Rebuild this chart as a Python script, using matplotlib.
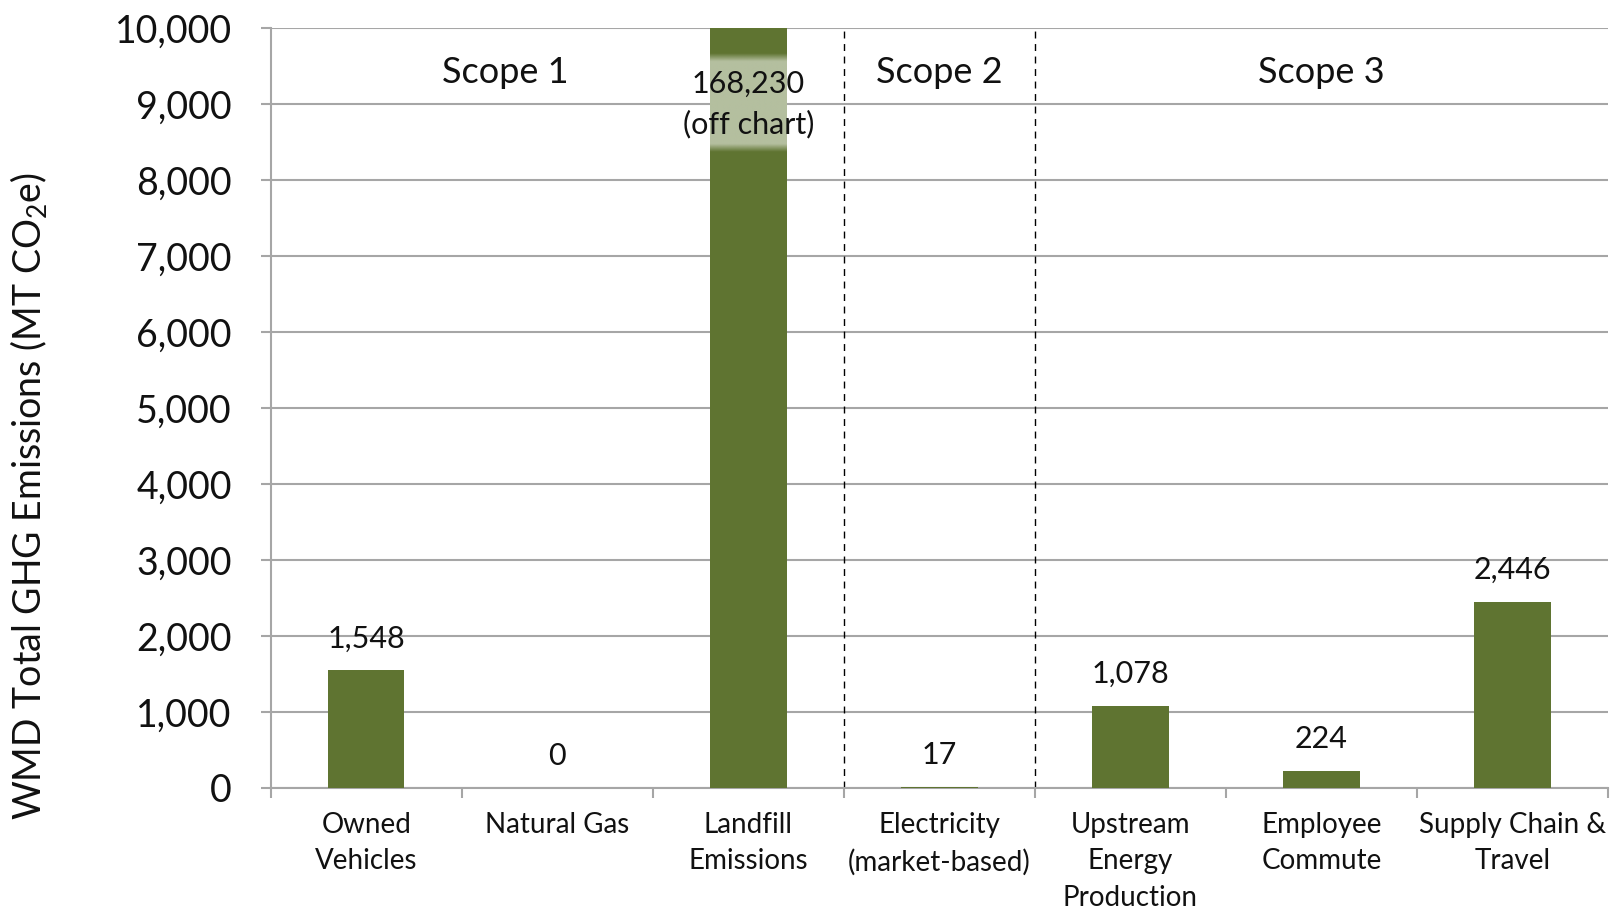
import numpy as np
import matplotlib
matplotlib.use('Agg')
import matplotlib.pyplot as plt
from matplotlib.colors import to_rgb

plt.rcParams['font.family'] = ['Lato', 'DejaVu Sans']
plt.rcParams['mathtext.fontset'] = 'custom'
plt.rcParams['mathtext.rm'] = 'Lato'
plt.rcParams['mathtext.it'] = 'Lato:italic'

# data
categories = ['Owned\nVehicles', 'Natural Gas', 'Landfill\nEmissions',
              'Electricity\n(market-based)', 'Upstream\nEnergy\nProduction',
              'Employee\nCommute', 'Supply Chain &\nTravel']
values = [1548, 0, 168230, 17, 1078, 224, 2446]
scopes = ['Scope 1', 'Scope 2', 'Scope 3']
scope_x = [0.73, 3.0, 5.0]
scope_bounds = [2.5, 3.5]
y_max = 10000

bar_color = '#5f7431'
band_color = '#b4bf9f'
grid_color = '#a6a6a6'
text_color = '#111111'

fig = plt.figure(figsize=(16.21, 9.13), dpi=100)
ax = fig.add_axes([0.167, 0.137, 0.825, 0.832])

x = np.arange(len(categories))
ax.bar(x, values, width=0.4, color=bar_color, zorder=3)

# light band across the bar that goes off the chart
n = 200
ramp = np.minimum(np.linspace(0, 1, n), np.linspace(1, 0, n))
img = np.zeros((n, 1, 4))
img[..., :3] = to_rgb(band_color)
img[:, 0, 3] = np.clip(ramp / 0.08, 0, 1)
for i, v in enumerate(values):
    if v > y_max:
        ax.imshow(img, extent=(i - 0.2, i + 0.2, 8370, 9670), aspect='auto',
                  zorder=4, interpolation='bilinear')
        ax.text(i, 9000, f'{v:,}\n(off chart)', ha='center', va='center',
                fontsize=22, color=text_color, zorder=5, linespacing=1.5)
    else:
        ax.annotate(f'{v:,}', (i, v), xytext=(0, 23), textcoords='offset points',
                    ha='center', va='center', fontsize=22, color=text_color)

for s, sx in zip(scopes, scope_x):
    ax.text(sx, 9420, s, ha='center', va='center', fontsize=26, color=text_color)

ax.vlines(scope_bounds, 0, y_max, colors='k', linestyles=(0, (5, 4)), lw=1, zorder=1)

ax.set_xlim(-0.5, len(categories) - 0.5)
ax.set_ylim(0, y_max)
ax.set_yticks(np.arange(0, y_max + 1, 1000))
ax.yaxis.set_major_formatter(lambda v, p: f'{int(v):,}')
ax.grid(axis='y', color=grid_color, lw=1.5, zorder=0)
ax.set_axisbelow(True)

ax.set_xticks(x, categories)
ax.set_xticks(np.arange(-0.5, len(categories), 1), minor=True)
ax.tick_params(axis='x', which='major', length=0, pad=17, labelsize=20, labelcolor=text_color)
ax.tick_params(axis='x', which='minor', length=7, width=1.5, color=grid_color)
ax.tick_params(axis='y', length=7, width=1.5, color=grid_color, pad=21,
               labelsize=27, labelcolor=text_color)
for lbl in ax.get_xticklabels():
    lbl.set_linespacing(1.5)

for sp in ['top', 'right']:
    ax.spines[sp].set_visible(False)
for sp in ['left', 'bottom']:
    ax.spines[sp].set_color(grid_color)
    ax.spines[sp].set_linewidth(1.5)

ax.set_ylabel('WMD Total GHG Emissions (MT CO$_2$e)', fontsize=27, color=text_color)
ax.yaxis.set_label_coords(-0.166, 0.384)

fig.savefig('out.png', dpi=100)
